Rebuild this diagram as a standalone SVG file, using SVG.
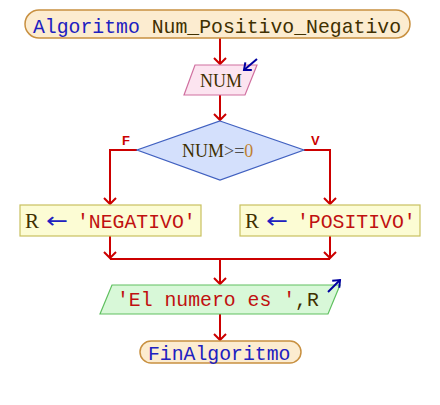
<svg xmlns="http://www.w3.org/2000/svg" width="440" height="405" viewBox="0 0 440 405">
<defs>
<marker id="ar" viewBox="-8 -7 10 14" markerWidth="10" markerHeight="14" refX="0" refY="0" orient="auto" markerUnits="userSpaceOnUse">
<path d="M-6,-6 L0,0 L-6,6" fill="none" stroke="#cc0000" stroke-width="2"/>
</marker>
<marker id="ab" viewBox="-8 -7 10 14" markerWidth="10" markerHeight="14" refX="0" refY="0" orient="auto" markerUnits="userSpaceOnUse">
<path d="M-6,-5 L0,0 L-6,5" fill="none" stroke="#0000a0" stroke-width="2"/>
</marker>
</defs>
<style>
.m{font-family:"Liberation Mono",monospace;font-size:19.8px}
.sf{font-family:"Liberation Serif",serif;font-size:21px}
.kw{fill:#2020c0}
.id{fill:#403000}
.st{fill:#c01010}
.c{fill:none;stroke:#cc0000;stroke-width:2}
.term{fill:#fcecd0;stroke:#c89040;stroke-width:1.5}
.lab{font-family:"Liberation Sans",sans-serif;font-size:13px;font-weight:bold;fill:#cc0000}
.arr{font-family:"DejaVu Sans",sans-serif;font-size:22px;fill:#2020c0}
</style>
<rect width="440" height="405" fill="#ffffff"/>
<g id="connectors">
<path class="c" d="M220,38 V64" marker-end="url(#ar)"/>
<path class="c" d="M220,95 V120" marker-end="url(#ar)"/>
<path class="c" d="M137,150 H110 V204" marker-end="url(#ar)"/>
<path class="c" d="M304,150 H330 V204" marker-end="url(#ar)"/>
<path class="c" d="M110,236 V258" marker-end="url(#ar)"/>
<path class="c" d="M330,236 V258" marker-end="url(#ar)"/>
<path class="c" d="M110,259 H330"/>
<path class="c" d="M220,259 V284" marker-end="url(#ar)"/>
<path class="c" d="M220,314 V340" marker-end="url(#ar)"/>
<text class="lab" x="122" y="145">F</text>
<text class="lab" x="311" y="145">V</text>
</g>
<g id="start">
<rect class="term" x="25" y="10" width="385" height="28" rx="14"/>
<text class="m" x="33" y="33"><tspan class="kw">Algoritmo</tspan><tspan class="id"> Num_Positivo_Negativo</tspan></text>
</g>
<g id="read">
<polygon points="195,65 257,65 245,95 184,95" fill="#fce4f0" stroke="#d070a0" stroke-width="1.2"/>
<text class="sf id" x="200" y="87" font-size="19" style="font-size:18px">NUM</text>
<path d="M257,59 L244,70" fill="none" stroke="#0000a0" stroke-width="2" marker-end="url(#ab)"/>
</g>
<g id="decision">
<polygon points="220,121 304,150 220,180 137,150" fill="#d4e0fc" stroke="#4060c0" stroke-width="1.2"/>
<text x="182" y="157" class="sf" style="font-size:18px"><tspan class="id">NUM</tspan><tspan fill="#505050">&gt;=</tspan><tspan fill="#c08030">0</tspan></text>
</g>
<g id="neg">
<rect x="20" y="205" width="181" height="31" fill="#fcfcd4" stroke="#c8c060" stroke-width="1.2"/>
<text class="sf id" x="25" y="228">R</text>
<text class="arr" x="46" y="228" textLength="22" lengthAdjust="spacingAndGlyphs">←</text>
<text class="m st" x="77" y="228">'NEGATIVO'</text>
</g>
<g id="pos">
<rect x="240" y="205" width="180" height="31" fill="#fcfcd4" stroke="#c8c060" stroke-width="1.2"/>
<text class="sf id" x="245" y="228">R</text>
<text class="arr" x="266" y="228" textLength="22" lengthAdjust="spacingAndGlyphs">←</text>
<text class="m st" x="297" y="228">'POSITIVO'</text>
</g>
<g id="write">
<polygon points="112,285 340,285 328,314 100,314" fill="#d8f8d8" stroke="#60c060" stroke-width="1.2"/>
<text class="m" x="117" y="306"><tspan class="st">'El numero es '</tspan><tspan class="id">,R</tspan></text>
<path d="M328,292 L340,280" fill="none" stroke="#0000a0" stroke-width="2" marker-end="url(#ab)"/>
</g>
<g id="end">
<rect class="term" x="140" y="341" width="161" height="22" rx="11"/>
<text class="m kw" x="148" y="360">FinAlgoritmo</text>
</g>
</svg>
